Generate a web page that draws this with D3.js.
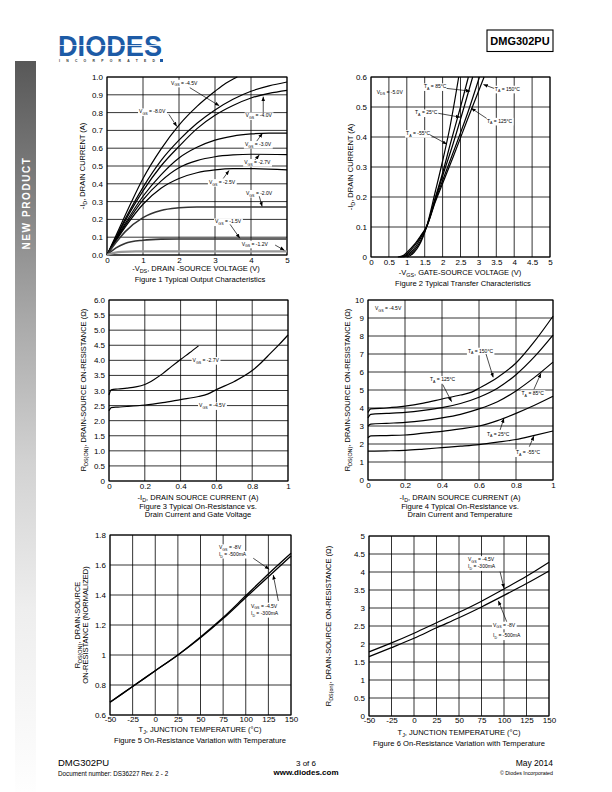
<!DOCTYPE html>
<html><head><meta charset="utf-8">
<script src="https://cdn.jsdelivr.net/npm/d3@7"></script>
<style>
body{margin:0;background:#fff}
svg{display:block}
text{font-family:"Liberation Sans",Arial,sans-serif;fill:#000}
</style>
</head><body>
<svg id="page" width="612" height="792"></svg>
<script>
// ---------------- DATA ----------------
// Figure 1: -ID (A) vs -VDS (V)
const fig1XTicks = [0,1,2,3,4,5];
const fig1YTicks = [0,0.1,0.2,0.3,0.4,0.5,0.6,0.7,0.8,0.9,1.0];
const fig1Vgs80 = [[0,0],[0.25,0.11],[0.5,0.22],[1,0.43],[1.5,0.595],[2,0.73],[2.5,0.835],[3,0.92],[3.3,0.965],[3.62,1.0]];
const fig1Vgs45 = [[0,0],[0.25,0.1],[0.5,0.2],[1,0.38],[1.5,0.53],[2,0.645],[2.5,0.74],[3,0.815],[3.5,0.875],[4,0.92],[4.5,0.95],[5,0.972]];
const fig1Vgs40 = [[0,0],[0.25,0.095],[0.5,0.19],[1,0.36],[1.5,0.5],[2,0.61],[2.5,0.71],[3,0.785],[3.5,0.84],[4,0.882],[4.5,0.908],[5,0.925]];
const fig1Vgs30 = [[0,0],[0.25,0.09],[0.5,0.175],[1,0.33],[1.5,0.45],[2,0.545],[2.5,0.605],[3,0.645],[3.5,0.668],[4,0.68],[4.5,0.685],[5,0.685]];
const fig1Vgs27 = [[0,0],[0.25,0.085],[0.5,0.165],[1,0.31],[1.5,0.415],[2,0.49],[2.5,0.53],[3,0.552],[3.5,0.562],[4,0.566],[5,0.564]];
const fig1Vgs25 = [[0,0],[0.25,0.08],[0.5,0.155],[1,0.285],[1.5,0.375],[2,0.43],[2.5,0.462],[3,0.478],[3.5,0.485],[4,0.485],[5,0.478]];
const fig1Vgs20 = [[0,0],[0.25,0.07],[0.5,0.13],[1,0.21],[1.5,0.25],[2,0.265],[2.5,0.27],[3,0.27],[5,0.27]];
const fig1Vgs15 = [[0,0],[0.25,0.04],[0.5,0.065],[1,0.083],[1.5,0.089],[2,0.09],[5,0.09]];
const fig1Vgs12 = [[0,0],[0.2,0.012],[0.4,0.018],[0.8,0.02],[5,0.02]];

// Figure 2: -ID (A) vs -VGS (V)
const fig2XTicks = [0,0.5,1,1.5,2,2.5,3,3.5,4,4.5,5];
const fig2YTicks = [0,0.1,0.2,0.3,0.4,0.5,0.6];
const fig2T150 = [[0.75,0],[0.9,0.005],[1.0,0.015],[1.2,0.04],[1.4,0.073],[1.55,0.1],[1.8,0.185],[2.0,0.245],[2.3,0.335],[2.7,0.46],[3.16,0.6]];
const fig2T125 = [[0.8,0],[0.95,0.005],[1.05,0.015],[1.2,0.035],[1.4,0.07],[1.55,0.1],[1.8,0.19],[2.0,0.255],[2.3,0.35],[2.7,0.48],[3.03,0.6]];
const fig2T85 = [[0.85,0],[1.0,0.006],[1.1,0.015],[1.25,0.035],[1.4,0.066],[1.55,0.1],[1.8,0.195],[2.0,0.27],[2.3,0.38],[2.6,0.5],[2.84,0.6]];
const fig2T25 = [[0.9,0],[1.05,0.006],[1.15,0.015],[1.3,0.036],[1.45,0.07],[1.55,0.1],[1.8,0.2],[2.0,0.28],[2.2,0.37],[2.5,0.5],[2.72,0.6]];
const fig2Tm55 = [[1.0,0],[1.1,0.005],[1.2,0.015],[1.35,0.04],[1.45,0.066],[1.55,0.1],[1.8,0.22],[2.0,0.32],[2.2,0.43],[2.45,0.6]];

// Figure 3: RDS(ON) (ohm) vs -ID (A)
const fig3XTicks = [0,0.2,0.4,0.6,0.8,1];
const fig3YTicks = [0,0.5,1,1.5,2,2.5,3,3.5,4,4.5,5,5.5,6];
const fig3Vgs27 = [[0,2.85],[0.005,2.95],[0.012,3.02],[0.05,3.05],[0.1,3.08],[0.15,3.12],[0.2,3.2],[0.25,3.36],[0.3,3.56],[0.35,3.8],[0.4,4.03],[0.45,4.25],[0.5,4.48]];
const fig3Vgs45 = [[0,2.33],[0.005,2.38],[0.012,2.43],[0.05,2.45],[0.1,2.47],[0.2,2.52],[0.3,2.6],[0.4,2.7],[0.5,2.8],[0.55,2.88],[0.6,3.03],[0.7,3.3],[0.8,3.66],[0.85,3.92],[0.9,4.22],[0.95,4.52],[1.0,4.84]];

// Figure 4: RDS(ON) (ohm) vs -ID (A), by temperature
const fig4XTicks = [0,0.2,0.4,0.6,0.8,1];
const fig4YTicks = [0,1,2,3,4,5,6,7,8,9,10];
const fig4T150 = [[0,3.75],[0.015,3.95],[0.1,4.0],[0.2,4.1],[0.3,4.27],[0.4,4.5],[0.5,4.72],[0.56,4.88],[0.6,5.1],[0.7,5.7],[0.8,6.5],[0.9,7.7],[1.0,9.1]];
const fig4T125 = [[0,3.45],[0.015,3.65],[0.1,3.7],[0.2,3.76],[0.3,3.87],[0.4,4.02],[0.5,4.25],[0.6,4.6],[0.7,5.1],[0.8,5.85],[0.9,6.85],[1.0,8.05]];
const fig4T85 = [[0,3.0],[0.015,3.1],[0.1,3.15],[0.2,3.2],[0.3,3.3],[0.4,3.45],[0.5,3.65],[0.6,3.95],[0.7,4.35],[0.8,4.95],[0.9,5.7],[1.0,6.55]];
const fig4T25 = [[0,2.35],[0.015,2.45],[0.1,2.47],[0.2,2.5],[0.3,2.6],[0.4,2.7],[0.5,2.84],[0.6,3.0],[0.7,3.3],[0.8,3.7],[0.9,4.15],[1.0,4.65]];
const fig4Tm55 = [[0,1.6],[0.1,1.62],[0.2,1.65],[0.3,1.72],[0.4,1.8],[0.5,1.88],[0.6,1.97],[0.7,2.1],[0.8,2.25],[0.9,2.48],[1.0,2.72]];

// Figure 5: normalized RDS(ON) vs TJ (°C)
const fig5XTicks = [-50,-25,0,25,50,75,100,125,150];
const fig5YTicks = [0.6,0.8,1,1.2,1.4,1.6,1.8];
const fig5Vgs8 = [[-50,0.685],[-25,0.79],[0,0.895],[25,1.0],[50,1.12],[75,1.25],[100,1.395],[125,1.54],[150,1.678]];
const fig5Vgs45 = [[-50,0.685],[-25,0.79],[0,0.895],[25,1.0],[50,1.115],[75,1.243],[100,1.383],[125,1.522],[150,1.66]];

// Figure 6: RDS(ON) (ohm) vs TJ (°C)
const fig6XTicks = [-50,-25,0,25,50,75,100,125,150];
const fig6YTicks = [0,0.5,1,1.5,2,2.5,3,3.5,4,4.5,5];
const fig6Vgs45 = [[-50,1.78],[-25,2.03],[0,2.3],[25,2.59],[50,2.88],[75,3.19],[100,3.53],[125,3.88],[150,4.27]];
const fig6Vgs8 = [[-50,1.65],[-25,1.9],[0,2.16],[25,2.45],[50,2.73],[75,3.03],[100,3.35],[125,3.68],[150,4.03]];

// ---------------- DRAWING ----------------
const svg = d3.select("#page");
const defs = svg.append("defs");
defs.append("marker").attr("id","ah").attr("viewBox","0 0 10 10")
  .attr("refX",10).attr("refY",5).attr("markerWidth",4.5).attr("markerHeight",4.5)
  .attr("markerUnits","userSpaceOnUse").attr("orient","auto")
  .append("path").attr("d","M0,1 L10,5 L0,9 Z").attr("fill","#000");
const grad = defs.append("linearGradient").attr("id","side").attr("x1",0).attr("y1",0).attr("x2",0).attr("y2",1);
[[0,"#585858"],[0.18,"#808080"],[0.35,"#a8a8a8"],[0.55,"#d2d2d2"],[0.75,"#eeeeee"],[1,"#fefefe"]]
  .forEach(([o,c])=>grad.append("stop").attr("offset",o).attr("stop-color",c));

function rich(t, str, size){
  const parts = str.split(/_\{([^}]*)\}/);
  const off = size*0.32;
  let down = false;
  parts.forEach((p,i)=>{
    if(!p) return;
    const s = t.append("tspan").text(p);
    if(i%2===1){ s.attr("font-size", size*0.72); if(!down){ s.attr("dy", off); down=true; } }
    else if(down){ s.attr("dy", -off); down=false; }
  });
  return t;
}
function txt(g, x, y, str, size, anchor, opts={}){
  const t = g.append("text").attr("x",x).attr("y",y).attr("font-size",size).attr("text-anchor",anchor||"start");
  if(opts.weight) t.attr("font-weight",opts.weight);
  if(opts.rotate) t.attr("transform",`rotate(-90,${x},${y})`);
  rich(t,str,size);
  return t;
}
function note(g, px, py, str, bg){
  const size = 5;
  const t = txt(g, px, py + size*0.35, str, size, "start");
  if(bg){
    const b = t.node().getBBox();
    g.insert("rect", () => t.node()).attr("x",b.x-1).attr("y",b.y).attr("width",b.width+2).attr("height",b.height).attr("fill","#fff");
  }
  return t;
}
function arrow(g, x1,y1,x2,y2){
  g.append("line").attr("x1",x1).attr("y1",y1).attr("x2",x2).attr("y2",y2)
    .attr("stroke","#000").attr("stroke-width",0.7).attr("marker-end","url(#ah)");
}

function panel(c){
  const g = svg.append("g");
  const x = d3.scaleLinear().domain(c.xDomain).range([c.left,c.right]);
  const y = d3.scaleLinear().domain(c.yDomain).range([c.bottom,c.top]);
  g.append("g").selectAll("line").data(c.xTicks).join("line")
    .attr("x1",d=>x(d)).attr("x2",d=>x(d)).attr("y1",c.top).attr("y2",c.bottom)
    .attr("stroke","#000").attr("stroke-width",0.8);
  g.append("g").selectAll("line").data(c.yTicks).join("line")
    .attr("y1",d=>y(d)).attr("y2",d=>y(d)).attr("x1",c.left).attr("x2",c.right)
    .attr("stroke","#000").attr("stroke-width",0.8);
  g.append("rect").attr("x",c.left).attr("y",c.top).attr("width",c.right-c.left).attr("height",c.bottom-c.top)
    .attr("fill","none").attr("stroke","#000").attr("stroke-width",1);
  const ax = g.append("g").attr("transform",`translate(0,${c.bottom})`)
    .call(d3.axisBottom(x).tickValues(c.xTicks).tickSize(0).tickPadding(c.xPad||2).tickFormat(c.xFmt||(d=>String(d))));
  const ay = g.append("g").attr("transform",`translate(${c.left},0)`)
    .call(d3.axisLeft(y).tickValues(c.yTicks).tickSize(0).tickPadding(4).tickFormat(c.yFmt||(d=>String(d))));
  [ax,ay].forEach(a=>{ a.select(".domain").remove(); a.selectAll("text").attr("font-size",8).attr("font-family",'"Liberation Sans",Arial,sans-serif').attr("fill","#000"); });
  const line = d3.line().x(d=>x(d[0])).y(d=>y(d[1])).curve(d3.curveMonotoneX);
  c.series.forEach(s=>{
    g.append("path").attr("d",line(s.data)).attr("fill","none")
      .attr("stroke",s.color||"#000").attr("stroke-width",s.width||1.2);
  });
  return {g,x,y};
}

// ---- Page furniture ----
svg.append("rect").attr("x",15).attr("y",61).attr("width",21).attr("height",731).attr("fill","url(#side)");
svg.append("text").attr("x",26).attr("y",203).attr("transform","rotate(-90,26,203)")
  .attr("text-anchor","middle").attr("dominant-baseline","central").attr("font-size",10).attr("font-weight","bold")
  .attr("letter-spacing",1.6).style("fill","#fff").text("NEW PRODUCT");

svg.append("text").attr("x",58).attr("y",56).attr("font-family","DejaVu Sans").attr("font-weight","bold")
  .attr("font-size",29).attr("textLength",104).attr("lengthAdjust","spacingAndGlyphs").style("fill","#1d5ba6").text("DIODES");
svg.append("rect").attr("x",57).attr("y",45).attr("width",107).attr("height",0.8).attr("fill","#fff");
svg.append("text").attr("x",59).attr("y",62).attr("font-size",3.4).attr("font-weight","bold")
  .attr("textLength",96).attr("lengthAdjust","spacing").style("fill","#333").text("INCORPORATED");
svg.append("rect").attr("x",160).attr("y",59).attr("width",3).attr("height",3).attr("fill","#1d5ba6");

svg.append("rect").attr("x",487).attr("y",30).attr("width",66).attr("height",21.5).attr("fill","none").attr("stroke","#000").attr("stroke-width",1.1);
svg.append("text").attr("x",520).attr("y",45).attr("text-anchor","middle").attr("font-size",11).attr("font-weight","bold").text("DMG302PU");

const foot = svg.append("g");
txt(foot,58,766,"DMG302PU",9.5,"start");
txt(foot,58,775.5,"Document number: DS36227  Rev. 2 - 2",6.3,"start");
txt(foot,306,765.5,"3 of 6",8,"middle");
txt(foot,306,775,"www.diodes.com",8,"middle",{weight:"bold"});
txt(foot,553,766,"May 2014",8.5,"end");
txt(foot,553,775,"© Diodes Incorporated",5.3,"end");

// ---- Figure 1 ----
{
  const p = panel({left:107,right:287,top:77,bottom:255,xDomain:[0,5],yDomain:[0,1],
    xTicks:fig1XTicks,yTicks:fig1YTicks,yFmt:d3.format(".1f"),
    series:[{data:fig1Vgs80},{data:fig1Vgs45},{data:fig1Vgs40},{data:fig1Vgs30},{data:fig1Vgs27},{data:fig1Vgs25},
      {data:fig1Vgs20,color:"#333",width:1.5},{data:fig1Vgs15,color:"#333",width:1.6},{data:fig1Vgs12,color:"#999",width:2.2}]});
  const {g,x,y} = p;
  const labs = [
    [1.78,0.966,"V_{GS} = -4.5V", [2.3,0.94, 3.12,0.838]],
    [0.89,0.805,"V_{GS} = -8.0V", [1.72,0.79, 1.94,0.722]],
    [3.85,0.783,"V_{GS} = -4.0V", [4.34,0.8, 4.34,0.89]],
    [3.83,0.622,"V_{GS} = -3.0V", [4.16,0.64, 4.32,0.684]],
    [3.81,0.521,"V_{GS} = -2.7V", [4.11,0.534, 4.23,0.562]],
    [2.83,0.408,"V_{GS} = -2.5V", [3.23,0.43, 3.39,0.475]],
    [3.86,0.347,"V_{GS} = -2.0V", [4.23,0.33, 4.31,0.272]],
    [3.0,0.187,"V_{GS} = -1.5V", [3.42,0.172, 3.69,0.094]],
    [3.74,0.062,"V_{GS} = -1.2V", [4.67,0.056, 4.93,0.026]]
  ];
  labs.forEach(l=>{ note(g,x(l[0]),y(l[1]),l[2],true); const a=l[3]; arrow(g,x(a[0]),y(a[1]),x(a[2]),y(a[3])); });
  txt(g,85,166,"-I_{D}, DRAIN CURRENT (A)",7.5,"middle",{rotate:true});
  txt(g,196,271,"-V_{DS}, DRAIN -SOURCE VOLTAGE (V)",7.5,"middle");
  txt(g,200,281.5,"Figure 1  Typical Output Characteristics",7.6,"middle");
}

// ---- Figure 2 ----
{
  const p = panel({left:371,right:550,top:77,bottom:257,xDomain:[0,5],yDomain:[0,0.6],
    xTicks:fig2XTicks,yTicks:fig2YTicks,yFmt:d=>d===0?"0":d3.format(".1f")(d),
    series:[{data:fig2T150},{data:fig2T125},{data:fig2T85},{data:fig2T25},{data:fig2Tm55}]});
  const {g,x,y} = p;
  note(g,x(0.16),y(0.55),"V_{DS} = -5.0V",false);
  const labs = [
    [1.48,0.568,"T_{A} = 85°C",[2.11,0.562, 2.77,0.553]],
    [3.46,0.56,"T_{A} = 150°C",[3.44,0.562, 3.14,0.575]],
    [1.23,0.481,"T_{A} = 25°C",[1.88,0.479, 2.49,0.466]],
    [3.24,0.453,"T_{A} = 125°C",[3.23,0.462, 2.8,0.496]],
    [0.98,0.412,"T_{A} = -55°C",[1.65,0.407, 2.12,0.376]]
  ];
  labs.forEach(l=>{ note(g,x(l[0]),y(l[1]),l[2],true); const a=l[3]; arrow(g,x(a[0]),y(a[1]),x(a[2]),y(a[3])); });
  txt(g,353,167,"-I_{D}, DRAIN CURRENT (A)",7.5,"middle",{rotate:true});
  txt(g,460,275,"-V_{GS}, GATE-SOURCE VOLTAGE (V)",7.5,"middle");
  txt(g,463,286,"Figure 2  Typical Transfer Characteristics",7.6,"middle");
}

// ---- Figure 3 ----
{
  const p = panel({left:109,right:288,top:300,bottom:481,xDomain:[0,1],yDomain:[0,6],
    xTicks:fig3XTicks,yTicks:fig3YTicks,yFmt:d=>d===0?"0":d.toFixed(1),
    series:[{data:fig3Vgs27},{data:fig3Vgs45}]});
  const {g,x,y} = p;
  note(g,x(0.467),y(4.0),"V_{GS} = -2.7V",true);
  note(g,x(0.503),y(2.5),"V_{GS} = -4.5V",true);
  txt(g,86,390,"R_{DS(ON)}, DRAIN-SOURCE ON-RESISTANCE (Ω)",7.5,"middle",{rotate:true});
  txt(g,198,499.5,"-I_{D}, DRAIN SOURCE CURRENT (A)",7.5,"middle");
  txt(g,198,508.5,"Figure 3  Typical On-Resistance vs.",7.6,"middle");
  txt(g,198,516.5,"Drain Current and Gate Voltage",7.6,"middle");
}

// ---- Figure 4 ----
{
  const p = panel({left:368,right:553,top:300,bottom:480,xDomain:[0,1],yDomain:[0,10],
    xTicks:fig4XTicks,yTicks:fig4YTicks,
    series:[{data:fig4T150},{data:fig4T125},{data:fig4T85},{data:fig4T25},{data:fig4Tm55}]});
  const {g,x,y} = p;
  note(g,x(0.038),y(9.54),"V_{GS} = -4.5V",false);
  const labs = [
    [0.54,7.17,"T_{A} = 150°C",[0.638,7.0, 0.677,5.7]],
    [0.335,5.59,"T_{A} = 125°C",[0.404,5.3, 0.452,4.35]],
    [0.83,4.81,"T_{A} = 85°C",[0.897,5.04, 0.935,5.93]],
    [0.643,2.56,"T_{A} = 25°C",[0.714,2.78, 0.735,3.43]],
    [0.8,1.52,"T_{A} = -55°C",[0.872,1.85, 0.897,2.44]]
  ];
  labs.forEach(l=>{ note(g,x(l[0]),y(l[1]),l[2],true); const a=l[3]; arrow(g,x(a[0]),y(a[1]),x(a[2]),y(a[3])); });
  txt(g,350,390,"R_{DS(ON)}, DRAIN-SOURCE ON-RESISTANCE (Ω)",7.5,"middle",{rotate:true});
  txt(g,460,499.5,"-I_{D}, DRAIN SOURCE CURRENT (A)",7.5,"middle");
  txt(g,460,508.5,"Figure 4  Typical On-Resistance vs.",7.6,"middle");
  txt(g,460,516.5,"Drain Current and Temperature",7.6,"middle");
}

// ---- Figure 5 ----
{
  const p = panel({left:110,right:291,top:535,bottom:715,xDomain:[-50,150],yDomain:[0.6,1.8],
    xTicks:fig5XTicks,yTicks:fig5YTicks,xPad:1,
    series:[{data:fig5Vgs8,width:1.3},{data:fig5Vgs45,width:1.3}]});
  const {g,x,y} = p;
  note(g,x(70.4),y(1.716),"V_{GS} = -8V",true);
  note(g,x(70.4),y(1.672),"I_{D} = -500mA",true);
  arrow(g,x(108.3),y(1.645),x(126),y(1.571));
  note(g,x(105.8),y(1.327),"V_{GS} = -4.5V",true);
  note(g,x(105.8),y(1.278),"I_{D} = -300mA",true);
  arrow(g,x(136),y(1.36),x(130.4),y(1.533));
  txt(g,80,625,"R_{DS(ON)}, DRAIN-SOURCE",7.5,"middle",{rotate:true});
  txt(g,88,625,"ON-RESISTANCE (NORMALIZED)",7.5,"middle",{rotate:true});
  txt(g,200,732,"T_{J}, JUNCTION TEMPERATURE (°C)",7.5,"middle");
  txt(g,200,742.5,"Figure 5  On-Resistance Variation with Temperature",7.6,"middle");
}

// ---- Figure 6 ----
{
  const p = panel({left:369,right:549,top:536,bottom:716,xDomain:[-50,150],yDomain:[0,5],
    xTicks:fig6XTicks,yTicks:fig6YTicks,xPad:1,
    series:[{data:fig6Vgs45},{data:fig6Vgs8}]});
  const {g,x,y} = p;
  note(g,x(60),y(4.35),"V_{GS} = -4.5V",true);
  note(g,x(60),y(4.15),"I_{D} = -300mA",true);
  arrow(g,x(95.6),y(4.01),x(100),y(3.55));
  note(g,x(87.8),y(2.53),"V_{GS} = -8V",true);
  note(g,x(87.8),y(2.23),"I_{D} = -500mA",true);
  arrow(g,x(103),y(2.62),x(93.7),y(3.2));
  txt(g,331,626,"R_{DS(on)}, DRAIN-SOURCE ON-RESISTANCE (Ω)",7.5,"middle",{rotate:true});
  txt(g,459,734.5,"T_{J}, JUNCTION TEMPERATURE (°C)",7.5,"middle");
  txt(g,459,746,"Figure 6  On-Resistance Variation with Temperature",7.6,"middle");
}
</script>
</body></html>
